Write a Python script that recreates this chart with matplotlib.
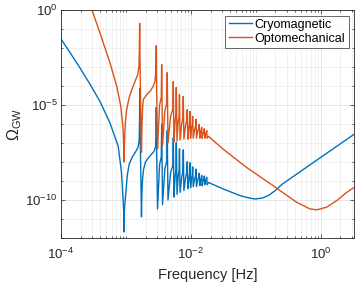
import numpy as np
import matplotlib
matplotlib.use("Agg")
import matplotlib.pyplot as plt
from matplotlib.ticker import LogLocator, NullFormatter

plt.rcParams['font.family'] = ['Liberation Sans', 'DejaVu Sans']
plt.rcParams['mathtext.default'] = 'regular'

# values, stored as log10(f [Hz]) and log10(Omega_GW)
cryo_logf = [
    -4.00, -3.86, -3.71, -3.55, -3.40, -3.25, -3.12, -3.07, -3.05, -3.035,
    -3.03, -3.025, -3.02, -3.00, -2.98, -2.95, -2.90, -2.85, -2.815, -2.798,
    -2.792, -2.788, -2.783, -2.775, -2.768, -2.762, -2.755, -2.745, -2.73, -2.70,
    -2.66, -2.61, -2.57, -2.545, -2.538, -2.534, -2.528, -2.52, -2.515,
    -2.483, -2.457, -2.451, -2.438,
    -2.402, -2.371, -2.365, -2.354,
    -2.314, -2.278, -2.272, -2.262,
    -2.245, -2.232, -2.226, -2.215,
    -2.197, -2.183, -2.177, -2.168,
    -2.143, -2.125, -2.118, -2.109,
    -2.084, -2.064, -2.057, -2.048,
    -2.031, -2.020, -2.015, -2.006,
    -1.991, -1.979, -1.974, -1.965,
    -1.945, -1.928, -1.923, -1.915,
    -1.895, -1.878, -1.872, -1.865,
    -1.851, -1.840, -1.835, -1.828,
    -1.812, -1.800, -1.795, -1.788,
    -1.774, -1.763, -1.758, -1.751,
    -1.731, -1.503, -1.246, -1.10, -1.015, -0.90, -0.80, -0.70, -0.60, -0.10, 0.512,
]
cryo_logo = [
    -1.53, -2.25, -3.04, -3.93, -4.82, -5.92, -7.17, -8.53, -9.69, -10.6,
    -11.68, -10.6, -10.3, -9.5, -8.7, -8.1, -7.72, -7.45, -7.23, -6.9,
    -6.0, -4.14, -6.0, -8.0, -9.5, -10.89, -9.6, -8.9, -8.4, -8.0,
    -7.8, -7.6, -7.45, -7.2, -6.6, -5.13, -7.5, -9.2, -10.47,
    -8.13, -7.73, -6.01, -10.25,
    -8.35, -7.95, -6.35, -10.0,
    -8.56, -8.16, -6.73, -9.85,
    -8.81, -8.41, -6.99, -9.7,
    -8.76, -8.46, -7.31, -9.6,
    -8.81, -8.51, -7.36, -9.5,
    -8.85, -8.55, -7.99, -9.4,
    -8.90, -8.60, -8.04, -9.35,
    -8.86, -8.66, -8.26, -9.3,
    -8.92, -8.72, -8.38, -9.3,
    -8.92, -8.77, -8.59, -9.25,
    -8.93, -8.83, -8.71, -9.25,
    -8.94, -8.89, -8.74, -9.2,
    -8.95, -8.90, -8.80, -9.2,
    -9.08, -9.42, -9.77, -9.90, -9.95, -9.90, -9.75, -9.50, -9.18, -7.99, -6.54,
]

opto_logf = [
    -3.54, -3.40, -3.246, -3.143, -3.08, -3.045, -3.035, -3.03, -3.022, -3.01,
    -2.99, -2.95, -2.91, -2.86, -2.82, -2.80, -2.794, -2.79, -2.785, -2.777,
    -2.77, -2.762, -2.755, -2.745, -2.734, -2.68, -2.63, -2.58, -2.554, -2.54,
    -2.534, -2.528, -2.52, -2.515,
    -2.483, -2.457, -2.451, -2.438,
    -2.402, -2.371, -2.365, -2.354,
    -2.314, -2.278, -2.272, -2.262,
    -2.245, -2.232, -2.226, -2.215,
    -2.197, -2.183, -2.177, -2.168,
    -2.143, -2.125, -2.118, -2.109,
    -2.084, -2.064, -2.057, -2.048,
    -2.031, -2.020, -2.015, -2.006,
    -1.991, -1.979, -1.974, -1.965,
    -1.945, -1.928, -1.923, -1.915,
    -1.895, -1.878, -1.872, -1.865,
    -1.851, -1.840, -1.835, -1.828,
    -1.812, -1.800, -1.795, -1.788,
    -1.774, -1.763, -1.758, -1.751,
    -1.731, -1.503, -1.143, -0.734, -0.374, -0.169, -0.066, 0.088, 0.242, 0.397, 0.512,
]
opto_logo = [
    0.17, -1.22, -2.79, -4.01, -5.06, -6.28, -7.2, -8.0, -6.8, -5.9,
    -5.24, -4.6, -4.19, -3.75, -3.40, -2.97, -2.0, -0.70, -2.5, -4.5,
    -6.0, -7.49, -6.2, -5.2, -4.71, -4.45, -4.28, -4.01, -3.75, -3.2,
    -1.88, -4.3, -6.3, -7.3,
    -5.0, -4.6, -2.88, -7.15,
    -5.3, -4.9, -3.3, -7.0,
    -5.6, -5.2, -3.77, -6.95,
    -5.9, -5.5, -4.08, -6.9,
    -5.9, -5.6, -4.45, -6.85,
    -6.0, -5.7, -4.55, -6.8,
    -6.1, -5.8, -5.24, -6.8,
    -6.2, -5.9, -5.34, -6.75,
    -6.2, -6.0, -5.6, -6.75,
    -6.3, -6.1, -5.76, -6.75,
    -6.35, -6.2, -6.02, -6.75,
    -6.4, -6.3, -6.18, -6.75,
    -6.45, -6.4, -6.25, -6.75,
    -6.5, -6.45, -6.35, -6.75,
    -6.65, -7.33, -8.29, -9.25, -10.12, -10.47, -10.52, -10.38, -10.04, -9.6, -9.34,
]

series = [
    ("Cryomagnetic", cryo_logf, cryo_logo, "#0072BD"),
    ("Optomechanical", opto_logf, opto_logo, "#D95319"),
]

fig = plt.figure(figsize=(3.57, 2.86), dpi=100)
ax = fig.add_axes([0.171, 0.168, 0.821, 0.797])

for name, lf, lo, col in series:
    ax.loglog(10 ** np.array(lf), 10 ** np.array(lo), color=col, lw=1.0, label=name)

ax.set_xlim(1e-4, 10 ** 0.512)
ax.set_ylim(1e-12, 1)

ax.set_xticks([1e-4, 1e-2, 1e0])
ax.set_yticks([1e-10, 1e-5, 1e0])
ax.xaxis.set_minor_locator(LogLocator(base=10, subs=np.arange(1, 10), numticks=30))
ax.yaxis.set_minor_locator(LogLocator(base=10, subs=(1.0,), numticks=30))
ax.xaxis.set_minor_formatter(NullFormatter())
ax.yaxis.set_minor_formatter(NullFormatter())

ax.grid(True, which='major', color='#dcdcdc', lw=0.5)
ax.grid(True, which='minor', color='#ececec', lw=0.5)
ax.set_axisbelow(True)

ax.tick_params(which='both', direction='in', top=True, right=True,
               colors='#262626', labelsize=9.5)
ax.tick_params(which='major', length=3, width=0.5)
ax.tick_params(which='minor', length=1.5, width=0.5)
ax.tick_params(axis='x', pad=6.5)
ax.tick_params(axis='y', pad=2.5)
for sp in ax.spines.values():
    sp.set_color('#262626')
    sp.set_linewidth(0.6)

ax.set_xlabel('Frequency [Hz]', fontsize=10.5, color='#262626')
ax.set_ylabel(r'$\Omega_{GW}$', fontsize=11.5, color='#262626')
ax.xaxis.set_label_coords(0.5, -0.13)
ax.yaxis.set_label_coords(-0.125, 0.5)

leg = ax.legend(loc='upper right', fontsize=9, frameon=True, fancybox=False,
                edgecolor='#262626', handlelength=1.9, handletextpad=0.2,
                borderpad=0.25, labelspacing=0.15, borderaxespad=0.45)
leg.get_frame().set_linewidth(0.6)

fig.savefig('out.png', dpi=100)
